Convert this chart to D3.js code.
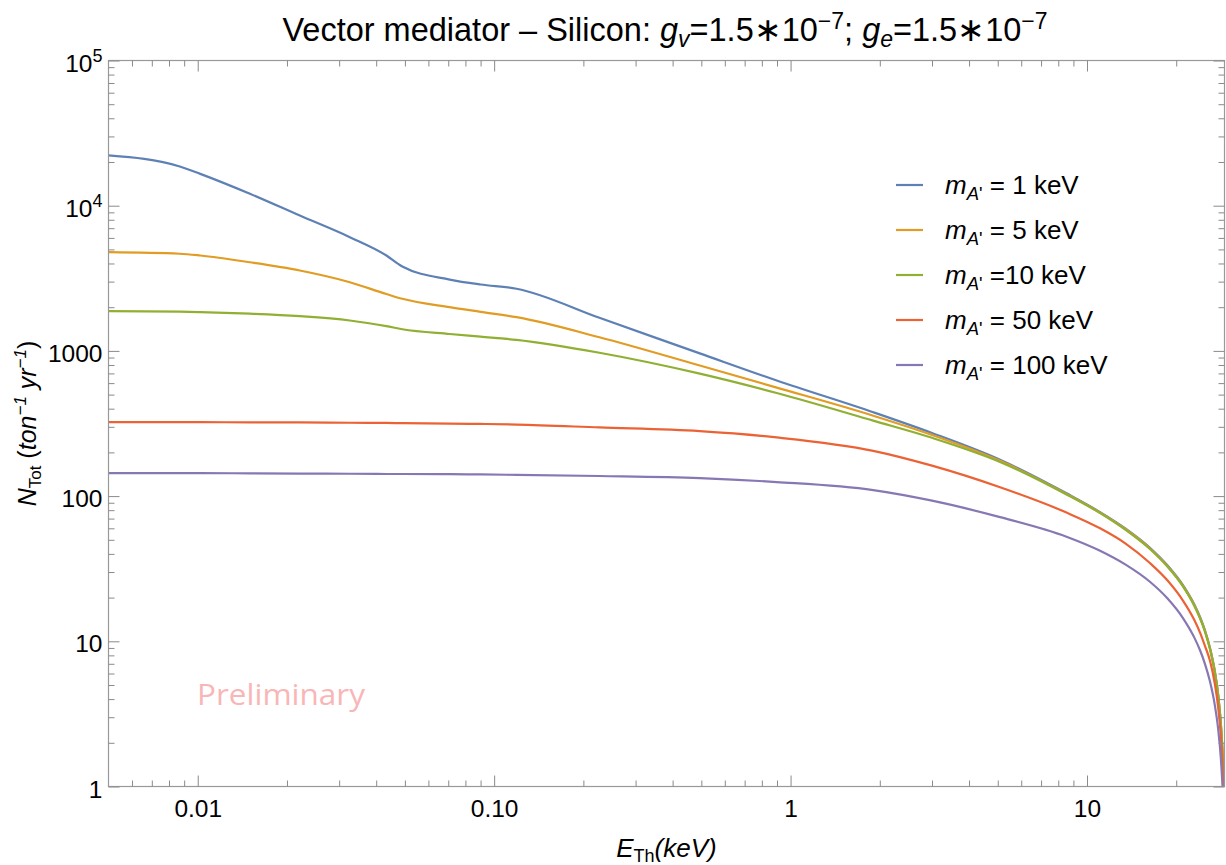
<!DOCTYPE html>
<html><head><meta charset="utf-8">
<script src="https://cdn.jsdelivr.net/npm/d3@7"></script>
<style>
body{margin:0;background:#fff;}
svg{display:block;font-family:"Liberation Sans",Arial,Helvetica,sans-serif;}
text{white-space:pre;}
</style></head><body>
<svg id="chart" width="1226" height="865"></svg>
<script>
// Threshold energy grid (keV) shared by all curves
const energy = [0.005, 0.0087, 0.0102, 0.015, 0.0221, 0.0326, 0.0433, 0.049, 0.0708, 0.09, 0.119,
                0.2265, 0.494, 0.898, 1.9, 3.0, 5.09, 8.53, 11.07, 13.5, 16.3, 18.7, 21.1, 23,
                24.1, 25, 26, 27, 27.7, 28.3, 28.7, 29.0, 29.1];

// Integrated event rate N_Tot (ton^-1 yr^-1) for each mediator mass
const rate1keV   = [22180, 18620, 16560, 12080, 8550, 6070, 4540, 3810, 3100, 2866, 2680,
                    1690, 961, 625, 378, 272, 178, 104.5, 77.6, 59.7, 44.1, 33.3, 24.3, 18.0,
                    14.6, 11.9, 9.0, 6.2, 4.3, 2.67, 1.6, 0.8, 0.53];
const rate5keV   = [4786, 4667, 4540, 4080, 3580, 2972, 2466, 2286, 2000, 1858, 1707,
                    1242, 793, 559, 358, 264, 175, 103.5, 77, 59.1, 43.6, 32.9, 24.0, 17.8,
                    14.4, 11.8, 8.9, 6.16, 4.26, 2.65, 1.59, 0.79, 0.53];
const rate10keV  = [1877, 1862, 1849, 1804, 1734, 1620, 1480, 1410, 1307, 1253, 1191,
                    971, 697, 513, 331, 252, 172, 102.6, 76.4, 58.5, 43.2, 32.6, 23.8, 17.6,
                    14.3, 11.67, 8.84, 6.10, 4.22, 2.62, 1.57, 0.78, 0.52];
const rate50keV  = [323, 323, 323, 322, 322, 320, 319, 318, 316, 314, 311,
                    297, 280, 253.5, 205, 162, 115, 77, 60, 47.1, 34.6, 26.2, 19.0, 14.06,
                    11.4, 9.3, 7.34, 5.08, 3.52, 2.19, 1.31, 0.65, 0.44];
const rate100keV = [144, 144, 144, 143.5, 143, 142.5, 142, 142, 141.5, 141, 140,
                    137.5, 133, 125, 110, 93, 71.6, 52.5, 42.0, 33.7, 25.7, 19.7, 14.4, 10.64,
                    8.61, 7.0, 5.28, 3.62, 2.49, 1.54, 0.92, 0.46, 0.30];

const seriesRates   = [rate1keV, rate5keV, rate10keV, rate50keV, rate100keV];
const legendSuffix  = [" = 1 keV", " = 5 keV", " =10 keV", " = 50 keV", " = 100 keV"];
const seriesColors  = ["#5e81b5", "#e19c24", "#8fb032", "#eb6235", "#8778b3"];

// Axis ticks
const xMajorTicks = [0.01, 0.1, 1, 10];
const xTickLabels = ["0.01", "0.10", "1", "10"];
const xMinorTicks = [0.006, 0.007, 0.008, 0.009, 0.02, 0.03, 0.04, 0.05, 0.06, 0.07, 0.08, 0.09,
                     0.2, 0.3, 0.4, 0.5, 0.6, 0.7, 0.8, 0.9, 2, 3, 4, 5, 6, 7, 8, 9, 20];
const yMajorTicks = [1, 10, 100, 1000, 1e4, 1e5];
const yTickLabels = ["1", "10", "100", "1000", "10^4", "10^5"];
const yMinorTicks = [];
[1, 10, 100, 1000, 1e4].forEach(dec => { for (let m = 2; m <= 9; m++) yMinorTicks.push(dec * m); });

const svg = d3.select("#chart");
const plotLeft = 108.5, plotRight = 1224.5, plotTop = 60.5, plotBottom = 786.5;

const x = d3.scaleLog().domain([0.005, 29.1]).range([plotLeft, plotRight]);
const y = d3.scaleLog().domain([1, 1e5]).range([plotBottom, plotTop]);

const frameColor = "#999";
const tickColor = "#8a8a8a";

function tidy(g) {
  g.select(".domain").remove();
  g.selectAll(".tick line").attr("stroke", tickColor).attr("stroke-width", 1);
  g.attr("font-family", null).attr("font-size", 24.5);
  g.selectAll(".tick text").attr("fill", "#000");
}

// Curves, clipped to the frame
svg.append("clipPath").attr("id", "plotClip")
  .append("rect").attr("x", plotLeft).attr("y", plotTop)
  .attr("width", plotRight - plotLeft).attr("height", plotBottom - plotTop);

const line = d3.line()
  .x(d => x(d[0]))
  .y(d => y(d[1]))
  .curve(d3.curveMonotoneX);

const curves = svg.append("g").attr("clip-path", "url(#plotClip)");
seriesRates.forEach((rates, i) => {
  const pts = energy.map((e, j) => [e, rates[j]]);
  curves.append("path")
    .attr("d", line(pts))
    .attr("fill", "none")
    .attr("stroke", seriesColors[i])
    .attr("stroke-width", 2.2)
    .attr("stroke-linejoin", "round");
});

// Frame
svg.append("rect")
  .attr("x", plotLeft).attr("y", plotTop)
  .attr("width", plotRight - plotLeft).attr("height", plotBottom - plotTop)
  .attr("fill", "none").attr("stroke", frameColor).attr("stroke-width", 1.2);

// Bottom axis
svg.append("g").attr("transform", `translate(0,${plotBottom})`)
  .call(d3.axisBottom(x).tickValues(xMajorTicks).tickSize(-11).tickPadding(13)
        .tickFormat((d, i) => xTickLabels[i]))
  .call(tidy);
svg.append("g").attr("transform", `translate(0,${plotBottom})`)
  .call(d3.axisBottom(x).tickValues(xMinorTicks).tickSize(-6).tickFormat(""))
  .call(tidy);

// Top axis (ticks only)
svg.append("g").attr("transform", `translate(0,${plotTop})`)
  .call(d3.axisTop(x).tickValues(xMajorTicks).tickSize(-11).tickFormat(""))
  .call(tidy);
svg.append("g").attr("transform", `translate(0,${plotTop})`)
  .call(d3.axisTop(x).tickValues(xMinorTicks).tickSize(-6).tickFormat(""))
  .call(tidy);

// Left axis
const yAxisG = svg.append("g").attr("transform", `translate(${plotLeft},0)`)
  .call(d3.axisLeft(y).tickValues(yMajorTicks).tickSize(-11).tickPadding(6).tickFormat(""))
  .call(tidy);
yAxisG.selectAll(".tick text").each(function (d, i) {
  const t = d3.select(this).attr("dy", null).attr("y", 10.5);
  const [base, exp] = yTickLabels[i].split("^");
  t.append("tspan").text(base);
  if (exp) t.append("tspan").attr("font-size", 18).attr("dy", -10).text(exp);
});
svg.append("g").attr("transform", `translate(${plotLeft},0)`)
  .call(d3.axisLeft(y).tickValues(yMinorTicks).tickSize(-6).tickFormat(""))
  .call(tidy);

// Right axis (ticks only)
svg.append("g").attr("transform", `translate(${plotRight},0)`)
  .call(d3.axisRight(y).tickValues(yMajorTicks).tickSize(-11).tickFormat(""))
  .call(tidy);
svg.append("g").attr("transform", `translate(${plotRight},0)`)
  .call(d3.axisRight(y).tickValues(yMinorTicks).tickSize(-6).tickFormat(""))
  .call(tidy);

// Title
const title = svg.append("text")
  .attr("x", 665).attr("y", 41)
  .attr("text-anchor", "middle").attr("font-size", 32.5).attr("fill", "#000");
title.append("tspan").text("Vector mediator \u2013 Silicon: ");
title.append("tspan").attr("font-style", "italic").text("g");
title.append("tspan").attr("font-style", "italic").attr("font-size", 23).attr("dy", 6).text("v");
title.append("tspan").attr("dy", -6).text("=1.5\u221710");
title.append("tspan").attr("font-size", 23).attr("dy", -12).text("\u22127");
title.append("tspan").attr("dy", 12).text("; ");
title.append("tspan").attr("font-style", "italic").text("g");
title.append("tspan").attr("font-style", "italic").attr("font-size", 23).attr("dy", 6).text("e");
title.append("tspan").attr("dy", -6).text("=1.5\u221710");
title.append("tspan").attr("font-size", 23).attr("dy", -12).text("\u22127");

// X axis label
const xl = svg.append("text")
  .attr("x", (plotLeft + plotRight) / 2).attr("y", 857)
  .attr("text-anchor", "middle").attr("font-size", 26).attr("fill", "#000");
xl.append("tspan").attr("font-style", "italic").text("E");
xl.append("tspan").attr("font-size", 18).attr("dy", 5).text("Th");
xl.append("tspan").attr("dy", -5).attr("font-style", "italic").text("(keV)");

// Y axis label
const yl = svg.append("text")
  .attr("transform", `translate(36,${(plotTop + plotBottom) / 2}) rotate(-90)`)
  .attr("text-anchor", "middle").attr("font-size", 25).attr("fill", "#000");
yl.append("tspan").attr("font-style", "italic").text("N");
yl.append("tspan").attr("font-size", 17).attr("dy", 5).text("Tot");
yl.append("tspan").attr("dy", -5).text(" (");
yl.append("tspan").attr("font-style", "italic").text("ton");
yl.append("tspan").attr("font-style", "italic").attr("font-size", 17).attr("dy", -10).text("\u22121");
yl.append("tspan").attr("dy", 10).text(" ");
yl.append("tspan").attr("font-style", "italic").text("yr");
yl.append("tspan").attr("font-style", "italic").attr("font-size", 17).attr("dy", -10).text("\u22121");
yl.append("tspan").attr("dy", 10).text(")");

// Legend
const legend = svg.append("g");
seriesColors.forEach((c, i) => {
  const ly = 185 + i * 45;
  legend.append("line")
    .attr("x1", 896).attr("x2", 923).attr("y1", ly).attr("y2", ly)
    .attr("stroke", c).attr("stroke-width", 2.2);
  const t = legend.append("text").attr("x", 945).attr("y", ly + 8.5)
    .attr("font-size", 26).attr("fill", "#000");
  t.append("tspan").attr("font-style", "italic").text("m");
  t.append("tspan").attr("font-style", "italic").attr("font-size", 18.5).attr("dy", 6).text("A");
  t.append("tspan").attr("font-size", 18.5).text("'");
  t.append("tspan").attr("dy", -6).text(legendSuffix[i]);
});

// Watermark
svg.append("text")
  .attr("x", 197).attr("y", 705)
  .attr("font-family", "'Open Sans', 'Noto Sans', sans-serif")
  .attr("font-size", 29).attr("fill", "#f8b6b6")
  .attr("textLength", 168).attr("lengthAdjust", "spacingAndGlyphs")
  .text("Preliminary");
</script>
</body></html>
